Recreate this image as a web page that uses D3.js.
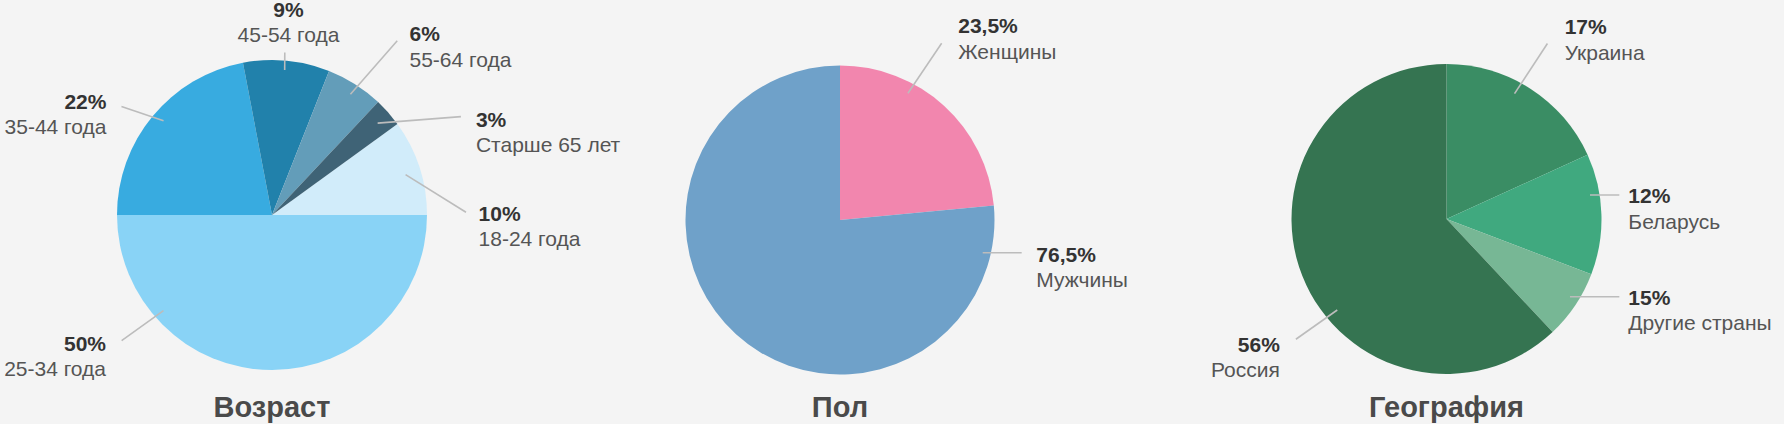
<!DOCTYPE html>
<html>
<head>
<meta charset="utf-8">
<script src="https://cdn.jsdelivr.net/npm/d3@7"></script>
<style>
  html, body { margin: 0; padding: 0; background: #f4f4f4; }
  svg { display: block; }
  text { font-family: "Liberation Sans", Arial, sans-serif; }
</style>
</head>
<body>
<svg id="chart" width="1784" height="424"></svg>
<script>
// ---- Data ----
const ageCategories = ["18-24 года", "25-34 года", "35-44 года", "45-54 года", "55-64 года", "Старше 65 лет"];
const ageValues = [10, 50, 22, 9, 6, 3];
const ageLabels = ["10%", "50%", "22%", "9%", "6%", "3%"];

const genderCategories = ["Женщины", "Мужчины"];
const genderValues = [23.5, 76.5];
const genderLabels = ["23,5%", "76,5%"];

const geoCategories = ["Украина", "Беларусь", "Другие страны", "Россия"];
const geoValues = [18.2, 12.6, 7.2, 62];          // slice sizes as drawn
const geoLabels = ["17%", "12%", "15%", "56%"];    // labels as printed

const chartTitles = ["Возраст", "Пол", "География"];

// ---- Styles / layout ----
const ageColors = ["#d1ecfa", "#89d3f6", "#38abe0", "#2181ab", "#639db9", "#3f6376"];
const genderColors = ["#f286ae", "#6fa1c9"];
const geoColors = ["#3a8d64", "#40a97f", "#77b795", "#357451"];

// leader layout: angles in degrees (clockwise from 12 o'clock), radii in px,
// text offset from the outer end of the leader line.
const ageLayout = {
  cx: 272, cy: 215, r: 155, startDeg: 54,
  leaders: [
    {a1: 73.2, r1: 139.5, a2: 89.2, r2: 194, dx: 12.6, dy: 8.3, anchor: "start"},
    {a1: 228.6, r1: 144.7, a2: 230.1, r2: 196, dx: -15.6, dy: 10, anchor: "end"},
    {a1: 311, r1: 143.7, a2: 305.8, r2: 185.6, dx: -15, dy: 2.3, anchor: "end"},
    {a1: 5, r1: 145.6, a2: 4.5, r2: 163, dx: 3.7, dy: -35.7, anchor: "middle"},
    {a1: 33, r1: 144, a2: 35.7, r2: 214.6, dx: 12.3, dy: 0.7, anchor: "start"},
    {a1: 49, r1: 140, a2: 62.5, r2: 213, dx: 15, dy: 10, anchor: "start"}
  ]
};
const genderLayout = {
  cx: 840, cy: 220, r: 154.5, startDeg: 0,
  leaders: [
    {a1: 28.2, r1: 143.8, a2: 29.9, r2: 203.9, dx: 16.6, dy: -10, anchor: "start"},
    {a1: 102.9, r1: 146.4, a2: 100.2, r2: 184.6, dx: 14.6, dy: 9, anchor: "start"}
  ]
};
const geoLayout = {
  cx: 1446.5, cy: 219, r: 155, startDeg: 0,
  leaders: [
    {a1: 28.5, r1: 142.6, a2: 29.9, r2: 202.5, dx: 17.2, dy: -9.2, anchor: "start"},
    {a1: 80.5, r1: 145.5, a2: 82.1, r2: 174.5, dx: 9, dy: 8.3, anchor: "start"},
    {a1: 122.2, r1: 145.9, a2: 114.2, r2: 189.5, dx: 9, dy: 8.3, anchor: "start"},
    {a1: 230.2, r1: 142.2, a2: 231.4, r2: 192.7, dx: -16, dy: 12.4, anchor: "end"}
  ]
};

const svg = d3.select("#chart");
svg.append("rect").attr("width", 1784).attr("height", 424).attr("fill", "#f4f4f4");

const rad = d => d * Math.PI / 180;
function polar(cx, cy, deg, r) {
  return [cx + r * Math.sin(rad(deg)), cy - r * Math.cos(rad(deg))];
}

function drawPie(categories, values, labels, colors, layout, title) {
  const g = svg.append("g");
  const start = rad(layout.startDeg);
  const pie = d3.pie().sort(null).value(d => d).startAngle(start).endAngle(start + 2 * Math.PI);
  const arcs = pie(values);
  const arc = d3.arc().innerRadius(0).outerRadius(layout.r);
  const color = d3.scaleOrdinal().domain(categories).range(colors);

  g.append("g").attr("transform", `translate(${layout.cx},${layout.cy})`)
    .selectAll("path").data(arcs).join("path")
    .attr("d", arc)
    .attr("fill", (d, i) => color(categories[i]));

  layout.leaders.forEach((L, i) => {
    const p1 = polar(layout.cx, layout.cy, L.a1, L.r1);
    const p2 = polar(layout.cx, layout.cy, L.a2, L.r2);
    g.append("line")
      .attr("x1", p1[0]).attr("y1", p1[1])
      .attr("x2", p2[0]).attr("y2", p2[1])
      .attr("stroke", "#bcbcbc").attr("stroke-width", 1.6);
    const tx = p2[0] + L.dx, ty = p2[1] + L.dy;
    const t = g.append("text").attr("text-anchor", L.anchor).attr("font-size", 21);
    t.append("tspan").attr("x", tx).attr("y", ty)
      .attr("font-weight", "bold").attr("fill", "#333").text(labels[i]);
    t.append("tspan").attr("x", tx).attr("y", ty + 25.3)
      .attr("fill", "#555").text(categories[i]);
  });

  g.append("text")
    .attr("x", layout.cx).attr("y", 417)
    .attr("text-anchor", "middle")
    .attr("font-size", 29).attr("font-weight", "bold")
    .attr("fill", "#4a4a4a")
    .text(title);
}

drawPie(ageCategories, ageValues, ageLabels, ageColors, ageLayout, chartTitles[0]);
drawPie(genderCategories, genderValues, genderLabels, genderColors, genderLayout, chartTitles[1]);
drawPie(geoCategories, geoValues, geoLabels, geoColors, geoLayout, chartTitles[2]);
</script>
</body>
</html>
